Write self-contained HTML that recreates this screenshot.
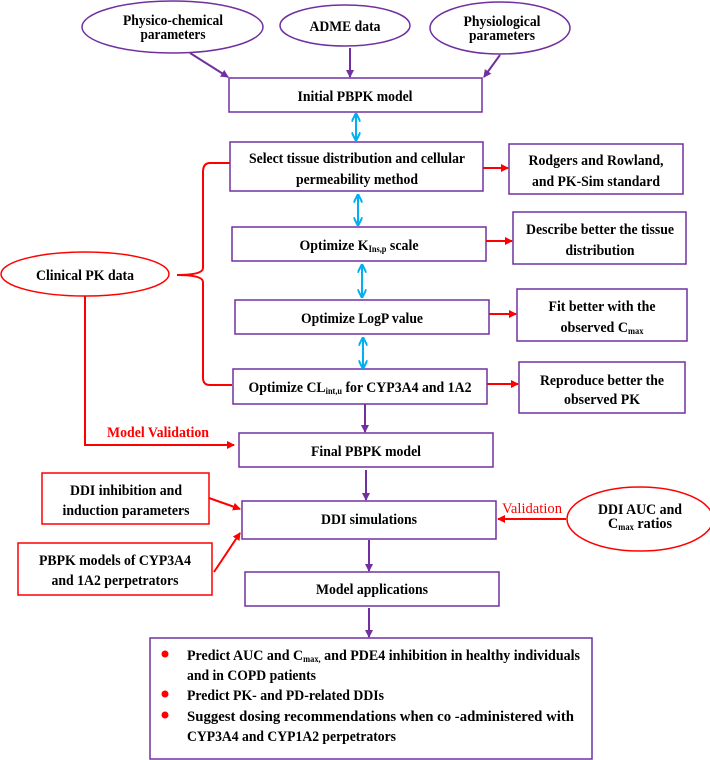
<!DOCTYPE html>
<html><head><meta charset="utf-8"><style>
html,body{margin:0;padding:0;background:#fff;}
svg{display:block;}
text{font-family:"Liberation Serif",serif;font-weight:bold;font-size:15px;fill:#000;}
.r{fill:#ff0000;}
</style></head><body>
<svg width="710" height="760" viewBox="0 0 710 760" xmlns="http://www.w3.org/2000/svg">
<defs>
<marker id="ap" markerWidth="8" markerHeight="8" refX="7" refY="4" orient="auto" markerUnits="userSpaceOnUse"><path d="M0,0 L8,4 L0,8 Z" fill="#7030a0"/></marker>
<marker id="ar" markerWidth="8" markerHeight="8" refX="7" refY="4" orient="auto" markerUnits="userSpaceOnUse"><path d="M0,0 L8,4 L0,8 Z" fill="#ff0000"/></marker>
<marker id="ac" markerWidth="9" markerHeight="9" refX="8" refY="4.5" orient="auto-start-reverse" markerUnits="userSpaceOnUse"><path d="M0,0 L9,4.5 L0,9" fill="none" stroke="#00b0f0" stroke-width="2"/></marker>
</defs>
<g fill="none" stroke="#7030a0" stroke-width="1.5">
<ellipse cx="172.5" cy="27" rx="90.5" ry="26"/>
<ellipse cx="345" cy="25.5" rx="65" ry="20.5"/>
<ellipse cx="500" cy="28" rx="70" ry="26"/>
<rect x="229" y="78" width="253" height="34"/>
<rect x="230" y="142" width="253" height="49"/>
<rect x="509" y="144" width="174" height="50"/>
<rect x="232" y="227" width="254" height="34"/>
<rect x="513" y="212" width="173" height="52"/>
<rect x="235" y="300" width="254" height="34"/>
<rect x="517" y="289" width="170" height="52"/>
<rect x="233" y="369" width="254" height="35"/>
<rect x="519" y="362" width="166" height="51"/>
<rect x="239" y="433" width="254" height="34"/>
<rect x="242" y="501" width="254" height="38"/>
<rect x="245" y="572" width="254" height="34"/>
<rect x="150" y="638" width="442" height="121"/>
</g>
<g stroke="#7030a0" stroke-width="2" fill="none">
<line x1="190" y1="53" x2="228" y2="77" marker-end="url(#ap)"/>
<line x1="350" y1="48" x2="350" y2="77" marker-end="url(#ap)"/>
<line x1="500" y1="55" x2="484" y2="77" marker-end="url(#ap)"/>
<line x1="365" y1="404" x2="365" y2="432" marker-end="url(#ap)"/>
<line x1="366" y1="470" x2="366" y2="500" marker-end="url(#ap)"/>
<line x1="369" y1="540" x2="369" y2="571" marker-end="url(#ap)"/>
<line x1="369" y1="608" x2="369" y2="637" marker-end="url(#ap)"/>
</g>
<g stroke="#00b0f0" stroke-width="2" fill="none">
<line x1="356" y1="114" x2="356" y2="140" marker-start="url(#ac)" marker-end="url(#ac)"/>
<line x1="358" y1="195" x2="358" y2="225" marker-start="url(#ac)" marker-end="url(#ac)"/>
<line x1="362" y1="265" x2="362" y2="297" marker-start="url(#ac)" marker-end="url(#ac)"/>
<line x1="363" y1="338" x2="363" y2="368" marker-start="url(#ac)" marker-end="url(#ac)"/>
</g>
<g stroke="#ff0000" stroke-width="2" fill="none">
<ellipse cx="85" cy="274" rx="84" ry="22" stroke-width="1.5"/>
<path d="M230,163 L210,163 Q203,163 203,172 L203,268 Q203,275 177,275 Q203,275 203,282 L203,378 Q203,385 210,385 L232,385"/>
<path d="M85,296 L85,445 L234,445" marker-end="url(#ar)"/>
<line x1="483" y1="168" x2="508" y2="168" marker-end="url(#ar)"/>
<line x1="486" y1="241" x2="512" y2="241" marker-end="url(#ar)"/>
<line x1="489" y1="314" x2="516" y2="314" marker-end="url(#ar)"/>
<line x1="487" y1="384" x2="518" y2="384" marker-end="url(#ar)"/>
<rect x="42" y="473" width="167" height="51" stroke-width="1.5"/>
<rect x="18" y="543" width="194" height="52" stroke-width="1.5"/>
<line x1="209" y1="498" x2="240" y2="509" marker-end="url(#ar)"/>
<line x1="214" y1="572" x2="240" y2="533" marker-end="url(#ar)"/>
<ellipse cx="640" cy="519" rx="73" ry="32" stroke-width="1.5"/>
<line x1="566" y1="519" x2="498" y2="519" marker-end="url(#ar)"/>
</g>
<g fill="#ff0000">
<circle cx="165" cy="654" r="3.5"/><circle cx="165" cy="694" r="3.5"/><circle cx="165" cy="715" r="3.5"/>
</g>
<g text-anchor="middle" lengthAdjust="spacingAndGlyphs">
<text x="173" y="25" textLength="100" lengthAdjust="spacingAndGlyphs">Physico-chemical</text>
<text x="173" y="39" textLength="65" lengthAdjust="spacingAndGlyphs">parameters</text>
<text x="345" y="31" textLength="71" lengthAdjust="spacingAndGlyphs">ADME data</text>
<text x="502" y="26" textLength="77" lengthAdjust="spacingAndGlyphs">Physiological</text>
<text x="502" y="40" textLength="66" lengthAdjust="spacingAndGlyphs">parameters</text>
<text x="355" y="101" textLength="115" lengthAdjust="spacingAndGlyphs">Initial PBPK model</text>
<text x="357" y="163" textLength="216" lengthAdjust="spacingAndGlyphs">Select tissue distribution and cellular</text>
<text x="357" y="184" textLength="122" lengthAdjust="spacingAndGlyphs">permeability method</text>
<text x="596" y="165" textLength="135" lengthAdjust="spacingAndGlyphs">Rodgers and Rowland,</text>
<text x="596" y="186" textLength="128" lengthAdjust="spacingAndGlyphs">and PK-Sim standard</text>
<text x="359" y="250" textLength="119" lengthAdjust="spacingAndGlyphs">Optimize K<tspan font-size="9" dy="2">Ins,p</tspan><tspan dy="-2"> scale</tspan></text>
<text x="600" y="234" textLength="148" lengthAdjust="spacingAndGlyphs">Describe better the tissue</text>
<text x="600" y="255" textLength="69" lengthAdjust="spacingAndGlyphs">distribution</text>
<text x="362" y="323" textLength="122" lengthAdjust="spacingAndGlyphs">Optimize LogP value</text>
<text x="602" y="311" textLength="107" lengthAdjust="spacingAndGlyphs">Fit better with the</text>
<text x="602" y="332" textLength="83" lengthAdjust="spacingAndGlyphs">observed C<tspan font-size="9" dy="2">max</tspan></text>
<text x="360" y="392" textLength="223" lengthAdjust="spacingAndGlyphs">Optimize CL<tspan font-size="9" dy="2">int,u</tspan><tspan dy="-2"> for CYP3A4 and 1A2</tspan></text>
<text x="602" y="385" textLength="124" lengthAdjust="spacingAndGlyphs">Reproduce better the</text>
<text x="602" y="404" textLength="76" lengthAdjust="spacingAndGlyphs">observed PK</text>
<text x="85" y="280" textLength="98" lengthAdjust="spacingAndGlyphs">Clinical PK data</text>
<text x="158" y="437" class="r" textLength="102" lengthAdjust="spacingAndGlyphs">Model Validation</text>
<text x="366" y="456" textLength="110" lengthAdjust="spacingAndGlyphs">Final PBPK model</text>
<text x="126" y="495" textLength="112" lengthAdjust="spacingAndGlyphs">DDI inhibition and</text>
<text x="126" y="515" textLength="127" lengthAdjust="spacingAndGlyphs">induction parameters</text>
<text x="369" y="524" textLength="96" lengthAdjust="spacingAndGlyphs">DDI simulations</text>
<text x="115" y="565" textLength="152" lengthAdjust="spacingAndGlyphs">PBPK models of CYP3A4</text>
<text x="115" y="585" textLength="127" lengthAdjust="spacingAndGlyphs">and 1A2 perpetrators</text>
<text x="532" y="513" class="r" style="font-weight:normal" textLength="60" lengthAdjust="spacingAndGlyphs">Validation</text>
<text x="640" y="514" textLength="84" lengthAdjust="spacingAndGlyphs">DDI AUC and</text>
<text x="640" y="528" textLength="64" lengthAdjust="spacingAndGlyphs">C<tspan font-size="9" dy="2">max</tspan><tspan dy="-2"> ratios</tspan></text>
<text x="372" y="594" textLength="112" lengthAdjust="spacingAndGlyphs">Model applications</text>
</g>
<text x="187" y="660" textLength="393" lengthAdjust="spacingAndGlyphs">Predict AUC and C<tspan font-size="9" dy="2">max,</tspan><tspan dy="-2"> and PDE4 inhibition in healthy individuals</tspan></text>
<text x="187" y="680" textLength="129" lengthAdjust="spacingAndGlyphs">and in COPD patients</text>
<text x="187" y="700" textLength="197" lengthAdjust="spacingAndGlyphs">Predict PK- and PD-related DDIs</text>
<text x="187" y="721" textLength="387" lengthAdjust="spacingAndGlyphs">Suggest   dosing   recommendations   when co  -administered with</text>
<text x="187" y="741" textLength="209" lengthAdjust="spacingAndGlyphs">CYP3A4 and CYP1A2 perpetrators</text>
</svg>
</body></html>
